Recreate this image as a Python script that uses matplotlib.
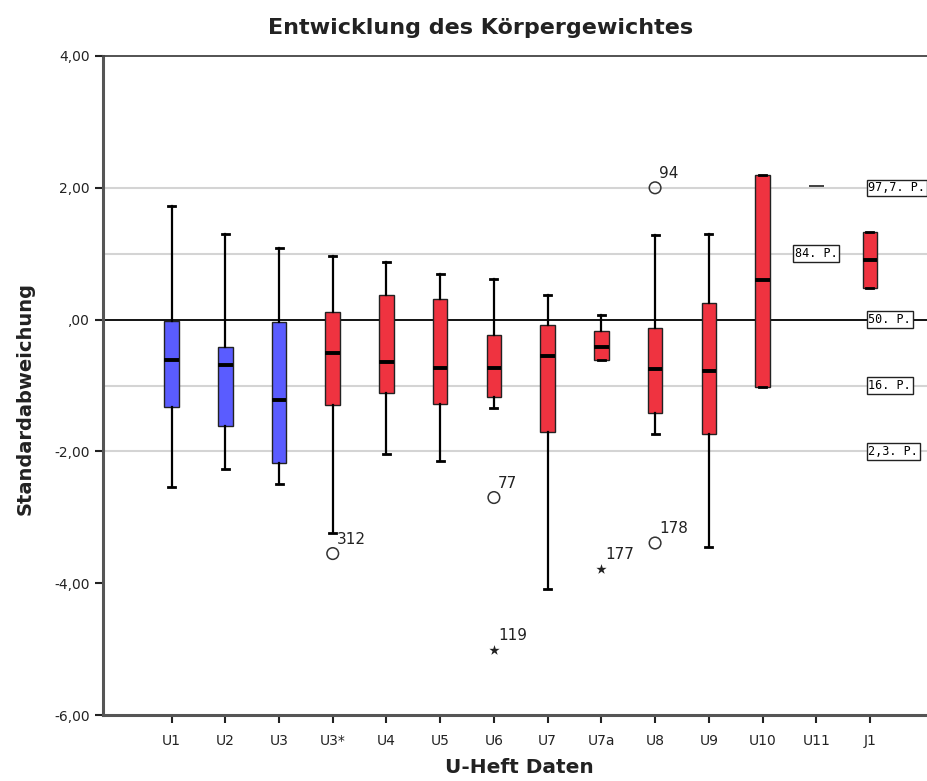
import matplotlib
matplotlib.use("Agg")
import matplotlib.pyplot as plt

# Visit categories and summary statistics (standard deviation scores)
labels = ["U1", "U2", "U3", "U3*", "U4", "U5", "U6", "U7", "U7a", "U8", "U9", "U10", "U11", "J1"]
whislo = [-2.54, -2.26, -2.49, -3.24, -2.04, -2.15, -1.34, -4.09, -0.62, -1.73, -3.45, -1.02, 2.03, 0.48]
q1 = [-1.32, -1.61, -2.18, -1.29, -1.11, -1.28, -1.17, -1.71, -0.62, -1.41, -1.73, -1.02, 2.03, 0.48]
med = [-0.62, -0.69, -1.22, -0.50, -0.65, -0.73, -0.73, -0.55, -0.42, -0.75, -0.78, 0.60, 2.03, 0.90]
q3 = [-0.02, -0.42, -0.04, 0.11, 0.37, 0.32, -0.23, -0.08, -0.18, -0.12, 0.25, 2.20, 2.03, 1.33]
whishi = [1.73, 1.30, 1.08, 0.97, 0.87, 0.69, 0.61, 0.37, 0.07, 1.28, 1.30, 2.20, 2.03, 1.33]

# Outliers (circle) and extreme values (star) with case numbers
out_cat = ["U3*", "U6", "U8", "U8"]
out_val = [-3.55, -2.70, 2.00, -3.39]
out_lab = ["312", "77", "94", "178"]
ext_cat = ["U6", "U7a"]
ext_val = [-5.01, -3.78]
ext_lab = ["119", "177"]

# Percentile reference lines
pct_val = [2.0, 1.0, 0.0, -1.0, -2.0]
pct_lab = ["97,7. P.", "84. P.", "50. P.", "16. P.", "2,3. P."]

n_blue = 3
blue = "#5a5cff"
red = "#ef3340"

fig = plt.figure(figsize=(9.28, 7.81), dpi=100)
ax = fig.add_axes([0.111, 0.0845, 0.889, 0.8438])

pos = list(range(1, len(labels) + 1))
ax.set_xlim(1 - 1.276, 15.08)
ax.set_ylim(-6, 4)

# reference lines
for v in pct_val:
    if v == 0:
        ax.axhline(v, color="black", lw=1.3, zorder=1)
    else:
        ax.axhline(v, color="#d4d4d4", lw=1.5, zorder=1)

stats = []
for i, lab in enumerate(labels):
    stats.append(dict(label=lab, whislo=whislo[i], q1=q1[i], med=med[i],
                      q3=q3[i], whishi=whishi[i], fliers=[]))

bp = ax.bxp(stats, positions=pos, widths=0.27, patch_artist=True,
            showfliers=False,
            boxprops=dict(edgecolor="#222222", linewidth=1.0),
            medianprops=dict(color="black", linewidth=2.8, solid_capstyle="butt"),
            whiskerprops=dict(color="black", linewidth=1.6),
            capprops=dict(color="black", linewidth=2.0),
            capwidths=0.13, manage_ticks=False, zorder=3)
for i, box in enumerate(bp["boxes"]):
    box.set_facecolor(blue if i < n_blue else red)
    if q1[i] == q3[i]:
        box.set_visible(False)
        bp["medians"][i].set_linewidth(1.3)
        bp["medians"][i].set_color("#333333")
        for c in bp["caps"][2 * i:2 * i + 2]:
            c.set_visible(False)

idx = {lab: p for lab, p in zip(labels, pos)}
ax.scatter([idx[c] for c in out_cat], out_val, s=70, facecolors="none",
           edgecolors="#333333", linewidths=1.1, zorder=4)
ax.scatter([idx[c] for c in ext_cat], ext_val, s=60, marker="*",
           color="#222222", linewidths=0, zorder=4)
for c, v, t in list(zip(out_cat, out_val, out_lab)) + list(zip(ext_cat, ext_val, ext_lab)):
    ax.annotate(t, (idx[c], v), xytext=(3, 5), textcoords="offset points",
                fontsize=11, color="#222222", ha="left", va="bottom",
                family="DejaVu Sans")

# percentile labels
bbox = dict(boxstyle="square,pad=0.15", facecolor="white", edgecolor="#222222", lw=1.0)
for v, t in zip(pct_val, pct_lab):
    if t.startswith("84"):
        ax.text(idx["U11"], v, t, ha="center", va="center", fontsize=8.5,
                family="DejaVu Sans Mono", bbox=bbox, zorder=5)
    else:
        ax.text(idx["J1"] - 0.03, v, t, ha="left", va="center", fontsize=8.5,
                family="DejaVu Sans Mono", bbox=bbox, zorder=5)

ax.set_xticks(pos)
ax.set_xticklabels(labels, fontsize=10, family="DejaVu Sans Condensed")
ax.set_yticks([4, 2, 0, -2, -4, -6])
ax.set_yticklabels(["4,00", "2,00", ",00", "-2,00", "-4,00", "-6,00"], fontsize=10)
ax.tick_params(axis="both", direction="out", length=6, width=1.5, color="#222222",
               labelcolor="#222222")
ax.tick_params(axis="x", pad=8)

for s in ["left", "bottom"]:
    ax.spines[s].set_linewidth(2.2)
    ax.spines[s].set_color("#555555")
ax.spines["top"].set_linewidth(1.3)
ax.spines["top"].set_color("#444444")
ax.spines["right"].set_visible(False)

fig.text(0.518, 0.964, "Entwicklung des Körpergewichtes", ha="center", va="center",
         fontsize=16, fontweight="bold", color="#222222")
ax.set_xlabel("U-Heft Daten", fontsize=14.5, fontweight="bold", color="#222222")
ax.xaxis.set_label_coords(0.505, -0.065)
fig.text(0.027, 0.49, "Standardabweichung", rotation=90, ha="center", va="center",
         fontsize=14, fontweight="bold", color="#222222")

fig.savefig("out.png", dpi=100)
